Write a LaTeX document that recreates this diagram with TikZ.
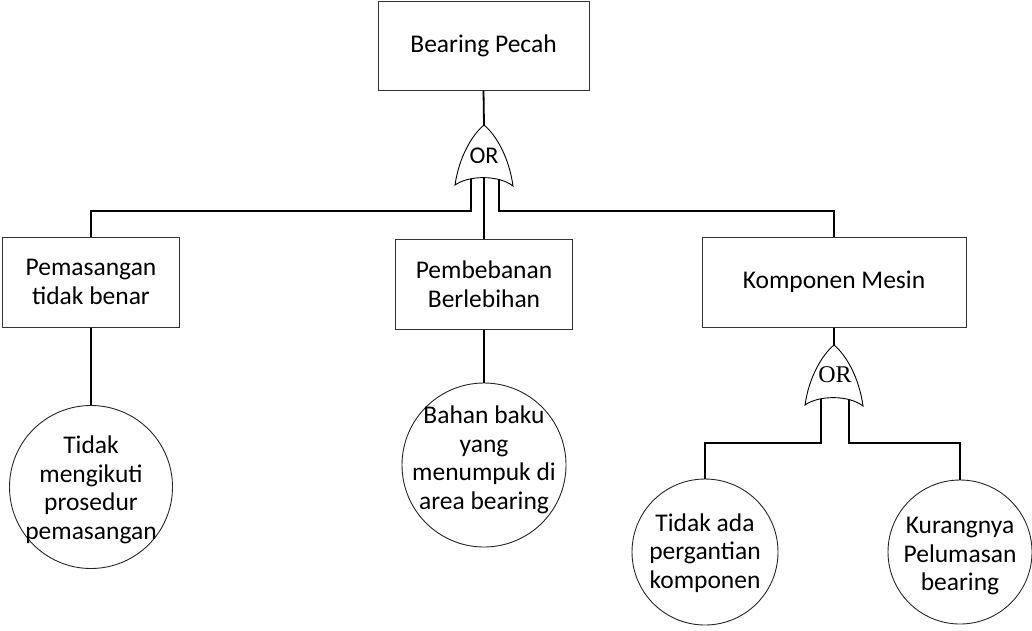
\documentclass[tikz,border=0pt]{standalone}
\usepackage{fontspec}
\setmainfont{Carlito}
\newfontfamily\orserif{Liberation Serif}
\begin{document}
\begin{tikzpicture}[x=1pt,y=-1pt,
  conn/.style={line width=1.8pt, black},
  evbox/.style={draw=black!80, line width=1pt, fill=white, align=center, inner sep=0pt, font=\fontsize{25.5}{28.5}\selectfont},
  basic/.style={draw=black!85, line width=0.9pt, circle, inner sep=0pt},
  ctext/.style={align=center, inner sep=0pt, font=\fontsize{25.5}{28.5}\selectfont},
  gatelbl/.style={inner sep=0pt, font=\fontsize{24}{26}\selectfont},
  orgate/.pic={
    \draw[line width=0.9pt, fill=white] (0,0) .. controls (-12,10) and (-25,32) .. (-29,60)
       .. controls (-15,50) and (15,50) .. (29,61)
       .. controls (25,32) and (12,10) .. (0,0) -- cycle;
    \coordinate (-tip) at (0,0);
    \coordinate (-l) at (-13,54);
    \coordinate (-m) at (0,53);
    \coordinate (-r) at (15,54);
  }]
\useasboundingbox (0,0) rectangle (1032,630);

% events
\node[evbox, minimum width=211pt, minimum height=89pt] (T) at (483.5,45.5) {Bearing Pecah};
\node[evbox, minimum width=177pt, minimum height=90pt] (A) at (91,282) {Pemasangan\\tidak benar};
\node[evbox, minimum width=177pt, minimum height=90pt] (B) at (484,284) {Pembebanan\\Berlebihan};
\node[evbox, minimum width=264pt, minimum height=90pt] (C) at (834,282) {Komponen Mesin};

% basic events
\node[basic, minimum size=163pt] (c1) at (91,487) {};
\node[ctext] (t1) at (91,490) {Tidak\\mengikuti\\prosedur\\pemasangan};
\node[basic, minimum size=164pt] (c2) at (484,465) {};
\node[ctext] (t2) at (484,460) {Bahan baku\\yang\\menumpuk di\\area bearing};
\node[basic, minimum size=146pt] (c3) at (705,552) {};
\node[ctext] (t3) at (705,553) {Tidak ada\\pergantian\\komponen};
\node[basic, minimum size=144pt] (c4) at (960,552) {};
\node[ctext] (t4) at (960,556) {Kurangnya\\Pelumasan\\bearing};

% gates
\pic (g1) at (484,125) {orgate};
\node[gatelbl] (o1) at (484,156) {OR};
\pic (g2) at (834,345) {orgate};
\node[gatelbl, font=\orserif\fontsize{24}{26}\selectfont] (o2) at (835,375) {OR};

\coordinate (bus1) at (0,211);
\coordinate (bus2) at (0,443);

% connectors
\draw[conn] (T.south) -- (g1-tip);
\draw[conn] (g1-l) -- (g1-l |- bus1) -| (A.north);
\draw[conn] (g1-m) -- (B.north);
\draw[conn] (g1-r) -- (g1-r |- bus1) -| (C.north);
\draw[conn] (A.south) -- (c1.north);
\draw[conn] (B.south) -- (c2.north);
\draw[conn] (C.south) -- (g2-tip);
\draw[conn] (g2-l) -- (g2-l |- bus2) -| (c3.north);
\draw[conn] (g2-r) -- (g2-r |- bus2) -| (c4.north);
\end{tikzpicture}
\end{document}
